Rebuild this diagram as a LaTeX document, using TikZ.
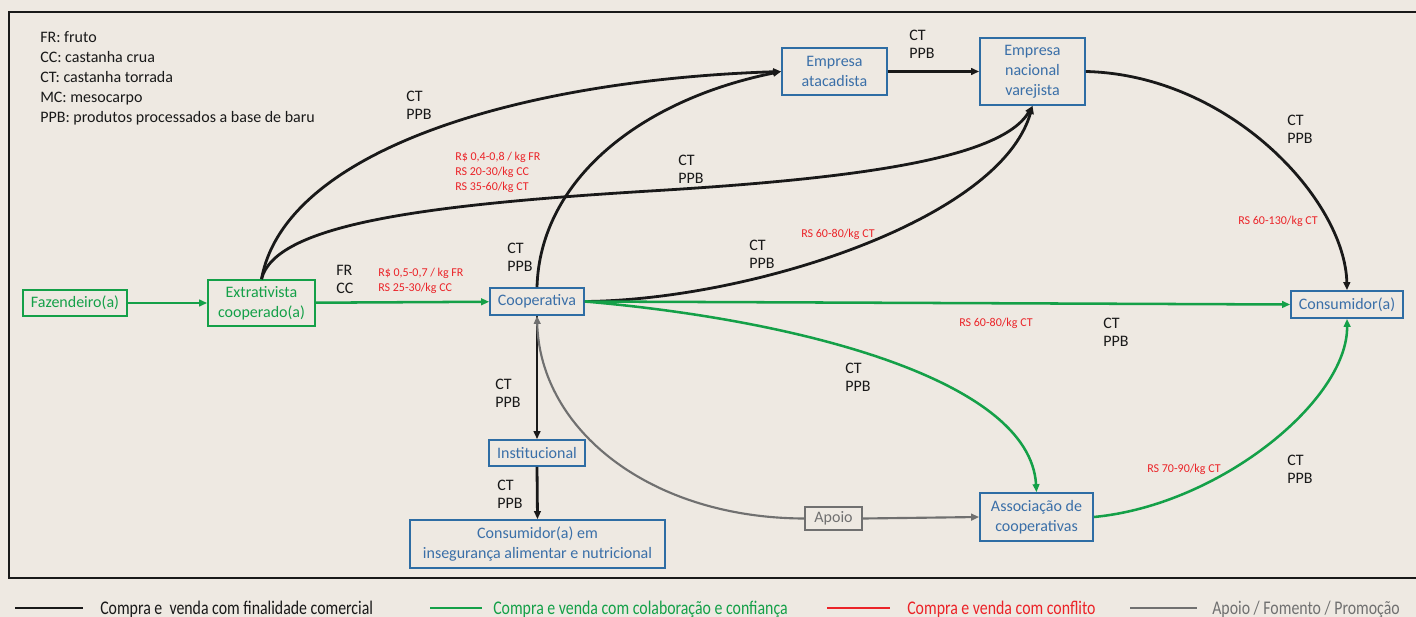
\documentclass[tikz,border=0pt]{standalone}
\usepackage{fontspec}
\setmainfont{Carlito}
\newfontfamily\condfont[FakeStretch=0.82]{Carlito}
\usetikzlibrary{arrows.meta}
\definecolor{bg}{RGB}{238,233,226}
\definecolor{bblue}{RGB}{46,109,164}
\definecolor{tblue}{RGB}{58,111,168}
\definecolor{ggreen}{RGB}{20,160,72}
\definecolor{rred}{RGB}{235,35,40}
\definecolor{ggray}{RGB}{112,112,112}
\definecolor{tblack}{RGB}{25,25,25}
\begin{document}
\begin{tikzpicture}[x=0.75pt,y=-0.75pt,
  bbox/.style={draw=bblue, line width=1.3pt, text=tblue, align=center, inner sep=0pt, font=\fontsize{12}{15}\selectfont},
  gbox/.style={bbox, draw=ggreen, text=ggreen},
  graybox/.style={bbox, draw=ggray, text=ggray},
  tip/.style={-{Triangle[length=6pt,width=5pt]}},
  blk/.style={tip, line width=2.1pt, draw=tblack},
  grn/.style={tip, line width=1.9pt, draw=ggreen},
  gry/.style={tip, line width=1.6pt, draw=ggray},
  lab/.style={anchor=north west, inner sep=0pt, align=left, text=tblack, font=\fontsize{12}{13.5}\selectfont},
  price/.style={anchor=north west, inner sep=0pt, align=left, text=rred, font=\fontsize{9}{11.25}\selectfont},
  leg/.style={anchor=west, inner sep=0pt, font=\condfont\fontsize{14.5}{16}\selectfont},
  legline/.style={line width=1.7pt}
]
\useasboundingbox (0,0) rectangle (1416,617);
\clip (0,0) rectangle (1416,617);
\fill[bg] (0,0) rectangle (1416,617);
\draw[line width=1.4pt, tblack] (9,12) rectangle (1430,578);

% nodes
\node[gbox, minimum width=78pt, minimum height=19.5pt] (faz) at (75,303) {Fazendeiro(a)};
\node[gbox, minimum width=80.25pt, minimum height=34.5pt] (ext) at (261.5,303) {Extrativista\\cooperado(a)};
\node[bbox, minimum width=70.5pt, minimum height=20.25pt] (coop) at (537,301.5) {Cooperativa};
\node[bbox, minimum width=78.75pt, minimum height=35.25pt] (ata) at (834.5,71.5) {Empresa\\atacadista};
\node[bbox, minimum width=78.75pt, minimum height=50.25pt] (var) at (1032.5,71.5) {Empresa\\nacional\\varejista};
\node[bbox, minimum width=84pt, minimum height=20.25pt] (cons) at (1347,304.5) {Consumidor(a)};
\node[bbox, minimum width=72pt, minimum height=19.5pt] (inst) at (537,453) {Institucional};
\node[bbox, minimum width=191.25pt, minimum height=36pt] (cinsa) at (537.5,544) {Consumidor(a) em\\insegurança alimentar e nutricional};
\node[graybox, minimum width=42.75pt, minimum height=17.25pt] (apoio) at (833.5,518.5) {Apoio};
\node[bbox, minimum width=84.75pt, minimum height=36pt] (assoc) at (1036.5,517) {Associação de\\cooperativas};

% connectors
\draw[grn] (faz) -- (ext);
\draw[grn] (ext) -- (coop);
\draw[blk] (ext.north) .. controls (285,150) and (520,80) .. (ata.west);
\draw[blk] (ext.north) .. controls (275,225) and (420,205) .. (650,191) .. controls (850,179) and (1000,160) .. (var.south);
\draw[blk] (coop.north) .. controls (540,180) and (640,100) .. (ata.west);
\draw[blk] (coop.east) .. controls (750,300) and (1000,220) .. (var.south);
\draw[grn] (coop.east) -- (cons.west);
\draw[grn] (coop.east) .. controls (800,320) and (1030,380) .. (assoc.north);
\draw[blk] (coop.south) -- (inst.north);
\draw[blk] (inst.south) -- (cinsa.north);
\draw[gry] (apoio.west) .. controls (650,518) and (540,430) .. (coop.south);
\draw[gry] (apoio.east) -- (assoc.west);
\draw[blk] (ata.east) -- (var.west);
\draw[blk] (var.east) .. controls (1230,75) and (1345,200) .. (cons.north);
\draw[grn] (assoc.east) .. controls (1220,505) and (1348,400) .. (cons.south);

% abbreviations
\node[lab, font=\fontsize{12}{15}\selectfont] (abbr) at (40,31) {FR: fruto\\CC: castanha crua\\CT: castanha torrada\\MC: mesocarpo\\PPB: produtos processados a base de baru};

% product labels
\node[lab] (p1) at (406,91) {CT\\PPB};
\node[lab] (p2) at (909,30) {CT\\PPB};
\node[lab] (p3) at (507,243) {CT\\PPB};
\node[lab] (p4) at (678,155) {CT\\PPB};
\node[lab] (p5) at (749,240) {CT\\PPB};
\node[lab] (p6) at (1287,115) {CT\\PPB};
\node[lab] (p7) at (1103,318) {CT\\PPB};
\node[lab] (p8) at (845,363) {CT\\PPB};
\node[lab] (p9) at (495,379) {CT\\PPB};
\node[lab] (p10) at (497,480) {CT\\PPB};
\node[lab] (p11) at (1287,455) {CT\\PPB};
\node[lab] (p12) at (336,265) {FR\\CC};

% prices
\node[price] (r1) at (455,152) {R\$ 0,4-0,8 / kg FR\\RS 20-30/kg CC\\RS 35-60/kg CT};
\node[price] (r2) at (378,268) {R\$ 0,5-0,7 / kg FR\\RS 25-30/kg CC};
\node[price] (r3) at (801,229) {RS 60-80/kg CT};
\node[price] (r4) at (959,318) {RS 60-80/kg CT};
\node[price] (r5) at (1238,216) {RS 60-130/kg CT};
\node[price] (r6) at (1147,464) {RS 70-90/kg CT};

% bottom legend
\coordinate (la1) at (15,608); \coordinate (lb1) at (83,608);
\coordinate (la2) at (430,608); \coordinate (lb2) at (482,608);
\coordinate (la3) at (827,608); \coordinate (lb3) at (890,608);
\coordinate (la4) at (1130,608); \coordinate (lb4) at (1197,608);
\draw[legline, tblack] (la1) -- (lb1);
\draw[legline, ggreen] (la2) -- (lb2);
\draw[legline, rred] (la3) -- (lb3);
\draw[legline, ggray] (la4) -- (lb4);
\node[leg, text=tblack] (t1) at (100,609) {Compra e\ \ venda com finalidade comercial};
\node[leg, text=ggreen] (t2) at (493,609) {Compra e venda com colaboração e confiança};
\node[leg, text=rred] (t3) at (907,609) {Compra e venda com conflito};
\node[leg, text=ggray] (t4) at (1212,609) {Apoio / Fomento / Promoção};
\end{tikzpicture}
\end{document}
